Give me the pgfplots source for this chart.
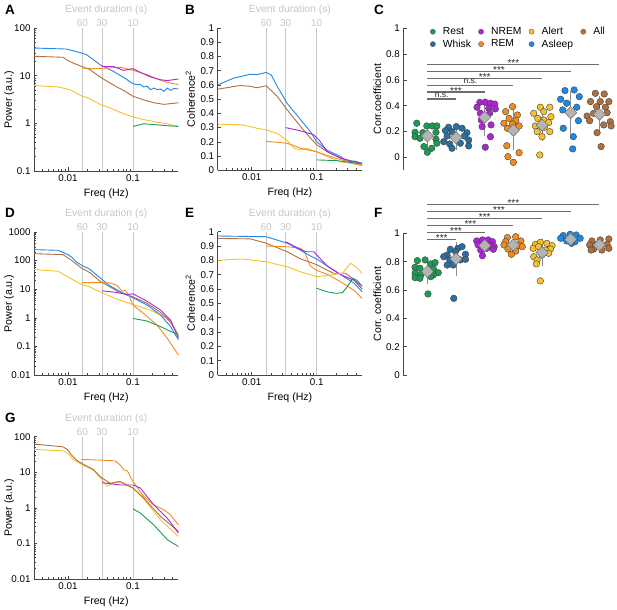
\documentclass[border=0pt]{standalone}
\usepackage{pgfplots}
\pgfplotsset{compat=1.18}
\usepackage{fontspec}
\setmainfont{Liberation Sans}
\setsansfont{Liberation Sans}

\definecolor{cRest}{RGB}{28,155,85}
\definecolor{cWhisk}{RGB}{43,110,160}
\definecolor{cNREM}{RGB}{175,35,215}
\definecolor{cREM}{RGB}{243,140,30}
\definecolor{cAlert}{RGB}{248,192,42}
\definecolor{cAsleep}{RGB}{32,136,228}
\definecolor{cAll}{RGB}{176,112,62}
\definecolor{evgray}{RGB}{198,198,198}
\definecolor{axgray}{RGB}{70,70,70}
\definecolor{sigbar}{RGB}{110,110,110}
\definecolor{diam}{RGB}{180,180,180}

\newcommand{\tf}{\fontsize{9.8}{11}\selectfont}
\newcommand{\lf}{\fontsize{10.6}{12}\selectfont}

\pgfplotsset{
  every non boxed x axis/.append style={x axis line style=-},
  every non boxed y axis/.append style={y axis line style=-},
  myBase/.style={
    scale only axis, clip=false,
    axis line style={axgray, line width=0.8pt},
    tick style={axgray, line width=0.6pt},
    ticklabel style={font=\tf, text=black},
    label style={font=\lf},
    tick align=inside,
  },
  mySpec/.style={
    myBase,
    width=144.4pt,
    xmin=0.003, xmax=0.5,
    axis x line=bottom, axis y line=left,
    major tick length=3.5pt, minor tick length=2pt,
    xtick={0.01,0.1}, xticklabels={0.01,0.1},
    minor xtick={0.004,0.005,0.006,0.007,0.008,0.009,0.02,0.03,0.04,0.05,0.06,0.07,0.08,0.09,0.2,0.3,0.4},
    xlabel={Freq (Hz)},
    xtick align=inside, ytick align=inside,
  },
  myLog/.style={mySpec, ylabel={Power (a.u.)},
    ylabel style={at={(axis description cs:-0.173,0.5)}, anchor=center}},
  myCoh/.style={mySpec, ymin=0, ymax=1,
    ytick={0,0.1,0.2,0.3,0.4,0.5,0.6,0.7,0.8,0.9,1},
    yticklabels={0,0.1,0.2,0.3,0.4,0.5,0.6,0.7,0.8,0.9,1},
    ylabel={Coherence\textsuperscript{2}},
    ylabel style={at={(axis description cs:-0.19,0.5)}, anchor=center}},
  myCorr/.style={
    myBase,
    width=210.4pt, xmin=0.16, xmax=7.5,
    axis x line=none, axis y line=left,
    major tick length=4pt, ytick align=inside,
    ytick={0,0.2,0.4,0.6,0.8,1}, yticklabels={0,0.2,0.4,0.6,0.8,1},
    ylabel style={at={(axis description cs:-0.123,0.5)}, anchor=center},
  },
  myDots/.style={only marks, mark=*, mark size=3.3pt, mark options={draw=black!75, fill=#1, line width=0.4pt}},
  myLeg/.style={only marks, mark=*, mark size=2.6pt, mark options={draw=black!70, fill=#1, line width=0.3pt}},
  myMeans/.style={only marks, mark=square*, mark size=4.3pt,
     mark options={rotate=45, fill=diam, draw=black!55, line width=0.5pt},
     error bars/y dir=both, error bars/y explicit,
     error bars/error bar style={black!45, line width=0.9pt},
     error bars/error mark options={black!45, mark size=4pt, line width=0.9pt}},
  mySig/.style={sigbar, line width=1.1pt, forget plot},
  myLine/.style={#1, line width=0.9pt},
}

\newcommand{\evdecor}{%
  \draw[evgray, line width=0.8pt] (rel axis cs:0.3353,0) -- (rel axis cs:0.3353,1);
  \draw[evgray, line width=0.8pt] (rel axis cs:0.4707,0) -- (rel axis cs:0.4707,1);
  \draw[evgray, line width=0.8pt] (rel axis cs:0.6854,0) -- (rel axis cs:0.6854,1);
  \node[text=evgray, font=\fontsize{10}{11}\selectfont, yshift=5pt] at (rel axis cs:0.3353,1) {60};
  \node[text=evgray, font=\fontsize{10}{11}\selectfont, yshift=5pt] at (rel axis cs:0.4707,1) {30};
  \node[text=evgray, font=\fontsize{10}{11}\selectfont, yshift=5pt] at (rel axis cs:0.6854,1) {10};
  \node[text=evgray, font=\fontsize{10.4}{11}\selectfont, yshift=18pt] at (rel axis cs:0.5,1) {Event duration (s)};
}
\newcommand{\sigs}[2]{\node[font=\fontsize{10}{11}\selectfont, anchor=base, text=black!85, yshift=#2] at (axis cs:#1) {***};}
\newcommand{\ns}[2]{\node[font=\fontsize{8.5}{10}\selectfont, anchor=base, text=black!85, yshift=#2] at (axis cs:#1) {n.s.};}

\begin{document}
\begin{tikzpicture}
\useasboundingbox (0,0) rectangle (617pt,-609pt);

\node[anchor=base west, inner sep=0pt, font=\fontsize{13.5}{14}\selectfont\bfseries] at (5pt,-15pt) {A};
\node[anchor=base west, inner sep=0pt, font=\fontsize{13.5}{14}\selectfont\bfseries] at (185pt,-15pt) {B};
\node[anchor=base west, inner sep=0pt, font=\fontsize{13.5}{14}\selectfont\bfseries] at (374pt,-15pt) {C};
\node[anchor=base west, inner sep=0pt, font=\fontsize{13.5}{14}\selectfont\bfseries] at (5pt,-218pt) {D};
\node[anchor=base west, inner sep=0pt, font=\fontsize{13.5}{14}\selectfont\bfseries] at (185pt,-218pt) {E};
\node[anchor=base west, inner sep=0pt, font=\fontsize{13.5}{14}\selectfont\bfseries] at (374pt,-218pt) {F};
\node[anchor=base west, inner sep=0pt, font=\fontsize{13.5}{14}\selectfont\bfseries] at (5pt,-422pt) {G};

% ---------------- A ----------------
\begin{axis}[xmode=log, ymode=log, myLog, at={(34pt,-171pt)}, anchor=south west, height=143pt,
  ymin=0.1, ymax=100, ytick={0.1,1,10,100}, yticklabels={0.1,1,10,100}]
\evdecor
\addplot[myLine=cAlert] coordinates {(0.003,6.2)(0.007,5.8)(0.0106,5.1)(0.0161,3.8)(0.0217,3.3)(0.0311,2.5)(0.0444,2.1)(0.0635,1.7)(0.1,1.36)(0.1465,1.2)(0.236,1.05)(0.338,0.98)(0.5,0.86)};
\addplot[myLine=cAll] coordinates {(0.003,25.5)(0.0084,24.3)(0.0094,21.7)(0.012,18.4)(0.0161,15.7)(0.0217,13.4)(0.0311,9.4)(0.0444,7.0)(0.0564,5.8)(0.0716,4.9)(0.1,3.7)(0.1465,3.1)(0.21,2.7)(0.3,2.5)(0.5,2.7)};
\addplot[myLine=cAsleep] coordinates {(0.003,38)(0.0094,36.2)(0.0113,34)(0.0161,29.9)(0.0193,27.6)(0.0245,21.7)(0.0311,17)(0.0394,14.5)(0.05,12.3)(0.0716,9.2)(0.1,6.8)(0.115,6.5)(0.13,6.5)(0.1465,5.8)(0.165,6.0)(0.186,5.1)(0.21,5.5)(0.236,5.1)(0.266,5.25)(0.3,4.7)(0.338,5.5)(0.38,4.9)(0.428,5.4)(0.5,5.25)};
\addplot[myLine=cREM] coordinates {(0.0167,14.5)(0.0245,14)(0.0444,14.5)(0.0635,15)(0.1,13)(0.165,10.5)(0.236,8.5)(0.338,7.2)(0.5,6.5)};
\addplot[myLine=cNREM] coordinates {(0.0333,15.6)(0.05,15.6)(0.0716,12.9)(0.1,14)(0.13,11.7)(0.186,9.4)(0.266,8.2)(0.338,7.9)(0.5,8.5)};
\addplot[myLine=cRest] coordinates {(0.1,0.86)(0.1465,0.98)(0.236,0.93)(0.338,0.89)(0.5,0.86)};
\end{axis}

% ---------------- B ----------------
\begin{axis}[xmode=log, myCoh, at={(217.7pt,-170.3pt)}, anchor=south west, height=142.3pt]
\evdecor
\addplot[myLine=cAlert] coordinates {(0.003,0.324)(0.007,0.32)(0.012,0.296)(0.0167,0.284)(0.0247,0.26)(0.0352,0.21)(0.045,0.155)(0.0566,0.143)(0.07,0.155)(0.1,0.13)(0.146,0.096)(0.235,0.06)(0.5,0.035)};
\addplot[myLine=cAll] coordinates {(0.003,0.57)(0.0067,0.596)(0.0095,0.59)(0.012,0.58)(0.0167,0.594)(0.0247,0.52)(0.0352,0.425)(0.0566,0.307)(0.0807,0.225)(0.1,0.18)(0.146,0.13)(0.235,0.085)(0.5,0.045)};
\addplot[myLine=cAsleep] coordinates {(0.003,0.60)(0.0053,0.648)(0.0095,0.675)(0.012,0.672)(0.0167,0.688)(0.02,0.67)(0.0247,0.59)(0.0352,0.47)(0.0566,0.355)(0.0807,0.27)(0.1,0.2)(0.146,0.14)(0.235,0.096)(0.3,0.06)(0.378,0.065)(0.5,0.05)};
\addplot[myLine=cREM] coordinates {(0.0167,0.204)(0.0352,0.19)(0.0566,0.155)(0.1,0.13)(0.18,0.09)(0.5,0.033)};
\addplot[myLine=cNREM] coordinates {(0.0333,0.30)(0.0566,0.277)(0.09,0.25)(0.11,0.21)(0.146,0.13)(0.235,0.085)(0.5,0.045)};
\addplot[myLine=cRest] coordinates {(0.1,0.073)(0.2,0.068)(0.5,0.045)};
\end{axis}

% ---------------- C ----------------
\begin{axis}[myCorr, at={(403.3pt,-170.2pt)}, anchor=south west, height=141.9pt,
  ymin=-0.1, ymax=1, ylabel={Corr.coefficient},
  legend columns=4,
  legend image code/.code={\draw[#1] plot coordinates {(0cm,0cm)};},
  legend style={draw=none, fill=none, at={(0.127,1.009)}, anchor=north west,
    inner sep=0pt, font=\fontsize{10.3}{11}\selectfont, row sep=3.5pt, column sep=0pt,
    nodes={inner sep=0pt},
    /tikz/every odd column/.append style={column sep=7.5pt},
    /tikz/every even column/.append style={column sep=7.5pt}},
  legend cell align=left]
\addlegendimage{myLeg=cRest}\addlegendentry{Rest}
\addlegendimage{myLeg=cNREM}\addlegendentry{NREM}
\addlegendimage{myLeg=cAlert}\addlegendentry{Alert}
\addlegendimage{myLeg=cAll}\addlegendentry{All}
\addlegendimage{myLeg=cWhisk}\addlegendentry{Whisk}
\addlegendimage{myLeg=cREM}\addlegendentry{REM}
\addlegendimage{myLeg=cAsleep}\addlegendentry{Asleep}
\addplot[mySig] coordinates {(1,0.452)(2,0.452)};
\addplot[mySig] coordinates {(1,0.506)(3,0.506)};
\addplot[mySig] coordinates {(1,0.558)(4,0.558)};
\addplot[mySig] coordinates {(1,0.610)(5,0.610)};
\addplot[mySig] coordinates {(1,0.667)(6,0.667)};
\addplot[mySig] coordinates {(1,0.721)(7,0.721)};
\ns{1.5,0.452}{1.5pt}
\sigs{2,0.506}{-2pt}
\ns{2.5,0.558}{1.5pt}
\sigs{3,0.610}{-2pt}
\sigs{3.5,0.667}{-2pt}
\sigs{4,0.721}{-2pt}
\addplot[myDots=cRest, forget plot] coordinates {(0.63,0.264)(0.98,0.243)(1.17,0.243)(1.33,0.243)(0.57,0.194)(0.84,0.191)(1.30,0.194)(0.57,0.16)(0.74,0.147)(1.30,0.14)(1.33,0.109)(0.88,0.083)(1.15,0.07)(1.0,0.039)};
\addplot[myDots=cWhisk, forget plot] coordinates {(1.74,0.233)(2.01,0.238)(2.21,0.225)(1.63,0.207)(1.86,0.199)(2.38,0.191)(1.69,0.165)(2.29,0.165)(1.57,0.121)(2.44,0.134)(1.78,0.103)(2.15,0.109)(2.44,0.088)(1.86,0.07)};
\addplot[myDots=cNREM, forget plot] coordinates {(2.83,0.426)(3.02,0.426)(3.20,0.419)(3.35,0.413)(2.73,0.388)(3.14,0.38)(3.37,0.375)(2.85,0.341)(3.17,0.341)(2.88,0.289)(3.22,0.251)(2.91,0.238)(3.20,0.16)(3.02,0.078)};
\addplot[myDots=cREM, forget plot] coordinates {(3.97,0.393)(3.73,0.354)(4.14,0.328)(3.85,0.302)(4.08,0.284)(3.67,0.264)(3.97,0.258)(4.2,0.243)(3.79,0.225)(4.0,0.199)(3.77,0.09)(4.2,0.036)(3.81,0.005)(4.0,-0.039)};
\addplot[myDots=cAlert, forget plot] coordinates {(4.94,0.388)(5.27,0.388)(5.06,0.354)(4.71,0.341)(5.31,0.315)(4.85,0.302)(5.06,0.289)(5.23,0.269)(4.77,0.243)(5.08,0.233)(4.83,0.199)(5.27,0.199)(5.0,0.16)(4.92,0.018)};
\addplot[myDots=cAsleep, forget plot] coordinates {(5.8,0.517)(6.12,0.522)(5.65,0.45)(6.3,0.47)(5.86,0.419)(6.21,0.388)(5.72,0.367)(6.03,0.341)(6.27,0.284)(5.74,0.225)(6.09,0.16)(6.07,0.065)};
\addplot[myDots=cAll, forget plot] coordinates {(6.86,0.496)(7.17,0.491)(6.69,0.432)(7.03,0.432)(7.33,0.432)(6.9,0.393)(7.21,0.388)(6.57,0.32)(6.8,0.341)(7.27,0.346)(6.66,0.284)(7.38,0.276)(7.15,0.251)(7.41,0.243)(6.92,0.191)(7.06,0.083)};
\addplot[myMeans, forget plot] table[x=x, y=y, y error=e] {
x y e
1 0.165 0.072
2 0.152 0.066
3 0.31 0.115
4 0.21 0.122
5 0.25 0.095
6 0.346 0.135
7 0.333 0.115
};
\end{axis}

% ---------------- D ----------------
\begin{axis}[xmode=log, ymode=log, myLog, at={(34pt,-375pt)}, anchor=south west, height=143pt,
  ymin=0.01, ymax=1000, ytick={0.01,0.1,1,10,100,1000}, yticklabels={0.01,0.1,1,10,100,1000}]
\evdecor
\addplot[myLine=cAlert] coordinates {(0.003,48.5)(0.007,42.5)(0.0161,14.6)(0.0217,12)(0.0311,8.1)(0.0564,4.5)(0.1,2.9)(0.186,1.85)(0.338,0.95)(0.5,0.28)};
\addplot[myLine=cAll] coordinates {(0.003,175)(0.0084,162)(0.0113,103)(0.0161,55)(0.0217,38)(0.0311,19)(0.0564,8.8)(0.1,5.4)(0.165,3.2)(0.266,1.53)(0.38,0.72)(0.5,0.22)};
\addplot[myLine=cAsleep] coordinates {(0.003,242)(0.007,229)(0.01,162)(0.0113,134)(0.0135,90)(0.0161,69)(0.0217,50)(0.0311,25)(0.0444,13)(0.0716,7.1)(0.1,5.0)(0.165,2.8)(0.266,1.24)(0.38,0.49)(0.5,0.17)};
\addplot[myLine=cREM] coordinates {(0.0167,17)(0.0311,17)(0.0444,16.5)(0.0564,13.8)(0.068,8.5)(0.076,9.2)(0.086,6.2)(0.1,2.8)(0.1465,1.4)(0.236,0.55)(0.338,0.19)(0.5,0.05)};
\addplot[myLine=cNREM] coordinates {(0.0333,8.8)(0.0564,7.7)(0.0807,6.5)(0.1,6.9)(0.165,3.8)(0.266,1.85)(0.38,0.83)(0.5,0.2)};
\addplot[myLine=cRest] coordinates {(0.1,0.95)(0.165,0.77)(0.266,0.49)(0.5,0.25)};
\end{axis}

% ---------------- E ----------------
\begin{axis}[xmode=log, myCoh, at={(217.7pt,-375pt)}, anchor=south west, height=143.3pt]
\evdecor
\addplot[myLine=cAll] coordinates {(0.003,0.953)(0.0095,0.95)(0.0167,0.92)(0.0352,0.86)(0.0566,0.81)(0.1,0.77)(0.18,0.71)(0.28,0.71)(0.5,0.62)};
\addplot[myLine=cREM] coordinates {(0.0167,0.90)(0.0352,0.895)(0.0566,0.885)(0.065,0.86)(0.08,0.76)(0.1,0.73)(0.15,0.70)(0.235,0.65)(0.378,0.59)(0.5,0.535)};
\addplot[myLine=cAsleep] coordinates {(0.003,0.97)(0.0167,0.965)(0.0352,0.92)(0.0566,0.87)(0.0807,0.83)(0.1,0.81)(0.146,0.76)(0.235,0.70)(0.378,0.64)(0.5,0.58)};
\addplot[myLine=cNREM] coordinates {(0.0333,0.93)(0.06,0.87)(0.07,0.86)(0.09,0.86)(0.146,0.76)(0.235,0.70)(0.378,0.66)(0.5,0.60)};
\addplot[myLine=cRest] coordinates {(0.1,0.605)(0.146,0.58)(0.2,0.57)(0.25,0.575)(0.3,0.62)(0.36,0.675)(0.42,0.66)(0.5,0.62)};
\addplot[myLine=cAlert] coordinates {(0.003,0.80)(0.007,0.81)(0.0167,0.79)(0.0352,0.755)(0.0566,0.72)(0.1,0.686)(0.18,0.70)(0.25,0.71)(0.33,0.78)(0.4,0.755)(0.5,0.71)};
\end{axis}

% ---------------- F ----------------
\begin{axis}[myCorr, at={(403.3pt,-375pt)}, anchor=south west, height=141.7pt,
  ymin=0, ymax=1, ylabel={Corr. coefficient}]
\addplot[mySig] coordinates {(1,0.958)(2,0.958)};
\addplot[mySig] coordinates {(1,1.005)(3,1.005)};
\addplot[mySig] coordinates {(1,1.054)(4,1.054)};
\addplot[mySig] coordinates {(1,1.104)(5,1.104)};
\addplot[mySig] coordinates {(1,1.155)(6,1.155)};
\addplot[mySig] coordinates {(1,1.205)(7,1.205)};
\sigs{1.5,0.958}{-2pt}
\sigs{2,1.005}{-2pt}
\sigs{2.5,1.054}{-2pt}
\sigs{3,1.104}{-2pt}
\sigs{3.5,1.155}{-2pt}
\sigs{4,1.205}{-2pt}
\addplot[myDots=cRest] coordinates {(0.65,0.807)(0.92,0.812)(1.12,0.784)(1.27,0.793)(0.57,0.76)(0.74,0.753)(1.21,0.748)(1.38,0.722)(0.57,0.718)(0.77,0.706)(1.21,0.706)(0.57,0.687)(0.74,0.682)(1.12,0.694)(1.02,0.572)};
\addplot[myDots=cWhisk] coordinates {(1.8,0.887)(2.06,0.894)(2.21,0.906)(1.69,0.847)(1.98,0.871)(2.33,0.852)(1.57,0.835)(1.78,0.812)(2.15,0.812)(2.33,0.816)(1.69,0.776)(1.9,0.776)(1.92,0.541)};
\addplot[myDots=cNREM] coordinates {(2.72,0.946)(2.92,0.953)(3.12,0.953)(3.27,0.941)(2.77,0.918)(3.21,0.913)(3.33,0.906)(2.86,0.882)(3.07,0.894)(3.3,0.887)(2.92,0.842)};
\addplot[myDots=cREM] coordinates {(3.79,0.97)(4.08,0.976)(3.73,0.941)(4.26,0.946)(3.67,0.918)(3.91,0.906)(4.2,0.913)(4.31,0.906)(3.81,0.889)(4.08,0.875)(3.93,0.852)};
\addplot[myDots=cAlert] coordinates {(4.77,0.922)(4.94,0.936)(5.17,0.929)(5.35,0.913)(4.69,0.894)(4.88,0.906)(5.29,0.889)(5.12,0.882)(4.71,0.835)(5.23,0.859)(5.0,0.847)(4.83,0.812)(4.8,0.784)(4.94,0.664)};
\addplot[myDots=cAsleep] coordinates {(5.74,0.984)(5.98,0.993)(6.19,0.988)(5.65,0.965)(6.33,0.965)(5.86,0.946)(6.15,0.941)(6.03,0.929)};
\addplot[myDots=cAll] coordinates {(6.74,0.946)(7.03,0.953)(7.33,0.96)(6.66,0.918)(6.92,0.922)(7.27,0.922)(6.8,0.889)(7.09,0.882)(7.33,0.894)(6.71,0.882)};
\addplot[myMeans] table[x=x, y=y, y error=e] {
x y e
1 0.73 0.06
2 0.82 0.09
3 0.913 0.035
4 0.918 0.035
5 0.864 0.07
6 0.958 0.02
7 0.918 0.03
};
\end{axis}

% ---------------- G ----------------
\begin{axis}[xmode=log, ymode=log, myLog, at={(34pt,-579pt)}, anchor=south west, height=142.3pt,
  ymin=0.01, ymax=100, ytick={0.01,0.1,1,10,100}, yticklabels={0.01,0.1,1,10,100}]
\evdecor
\addplot[myLine=cAlert] coordinates {(0.003,44)(0.0084,40)(0.01,34)(0.012,23)(0.0161,16.8)(0.0245,11.6)(0.0311,7.2)(0.0394,4.1)(0.0564,5.5)(0.1,3.6)(0.1465,1.8)(0.266,0.46)(0.5,0.157)};
\addplot[myLine=cAll] coordinates {(0.003,62)(0.0084,52)(0.01,42)(0.0113,30.6)(0.0135,22)(0.0172,16.8)(0.0245,12.1)(0.0311,7.6)(0.0444,4.9)(0.0635,5.5)(0.1,3.6)(0.1465,1.87)(0.266,0.57)(0.5,0.22)};
\addplot[myLine=cREM] coordinates {(0.0161,23)(0.0311,22)(0.053,21)(0.0635,16)(0.073,11.6)(0.082,11)(0.091,7.6)(0.1,5.5)(0.1465,2.1)(0.21,1.2)(0.3,0.88)(0.38,0.63)(0.5,0.33)};
\addplot[myLine=cNREM] coordinates {(0.0333,5.1)(0.0635,4.4)(0.1,4.4)(0.13,3.6)(0.21,1.2)(0.338,0.51)(0.5,0.195)};
\addplot[myLine=cRest] coordinates {(0.1,0.94)(0.13,0.71)(0.21,0.33)(0.338,0.127)(0.5,0.082)};
\end{axis}
\end{tikzpicture}
\end{document}
